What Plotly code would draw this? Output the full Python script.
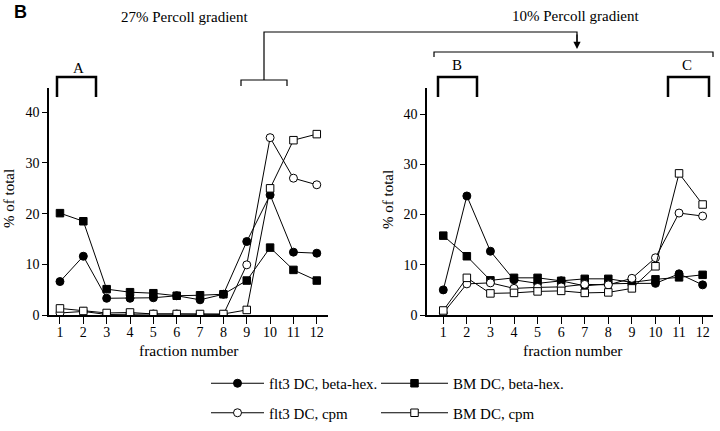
import plotly.graph_objects as go

fractions = list(range(1, 13))
x_tick_labels = [str(i) for i in fractions]
y_ticks = [0, 10, 20, 30, 40]

# Left panel (27% Percoll gradient)
left_flt3_bhex = [6.6, 11.6, 3.3, 3.3, 3.4, 3.8, 3.0, 4.1, 14.5, 23.7, 12.4, 12.2]
left_bm_bhex = [20.1, 18.5, 5.1, 4.5, 4.3, 3.8, 3.9, 4.1, 6.8, 13.3, 8.9, 6.8]
left_flt3_cpm = [0.4, 0.7, 0.1, 0.2, 0.2, 0.2, 0.1, 0.1, 9.9, 35.0, 27.0, 25.7]
left_bm_cpm = [1.3, 0.8, 0.4, 0.5, 0.2, 0.2, 0.2, 0.2, 1.0, 25.0, 34.5, 35.7]

# Right panel (10% Percoll gradient)
right_flt3_bhex = [5.0, 23.7, 12.7, 7.0, 6.3, 6.8, 5.8, 6.2, 6.3, 6.3, 8.2, 6.0]
right_bm_bhex = [15.8, 11.7, 6.9, 7.4, 7.4, 6.8, 7.2, 7.2, 6.5, 7.1, 7.5, 8.0]
right_flt3_cpm = [0.4, 6.2, 6.4, 5.3, 5.5, 5.6, 6.1, 6.0, 7.3, 11.4, 20.3, 19.7]
right_bm_cpm = [0.9, 7.4, 4.3, 4.4, 4.7, 4.8, 4.4, 4.5, 5.3, 9.7, 28.2, 22.0]

series_names = ["flt3 DC, beta-hex.", "BM DC, beta-hex.", "flt3 DC, cpm", "BM DC, cpm"]

W, H = 720, 431
def px(x):
    return x / W
def py(y):
    return 1 - y / H

SERIF = "Liberation Serif"
styles = [
    dict(symbol="circle", size=8, color="black", line=dict(color="black", width=1)),
    dict(symbol="square", size=7.5, color="black", line=dict(color="black", width=1)),
    dict(symbol="circle", size=8, color="white", line=dict(color="black", width=1)),
    dict(symbol="square", size=7.5, color="white", line=dict(color="black", width=1)),
]
legend_ids = ["legend", "legend2", "legend", "legend2"]

fig = go.Figure()
left = [left_flt3_bhex, left_bm_bhex, left_flt3_cpm, left_bm_cpm]
right = [right_flt3_bhex, right_bm_bhex, right_flt3_cpm, right_bm_cpm]
for i, (name, ys) in enumerate(zip(series_names, left)):
    fig.add_trace(go.Scatter(x=fractions, y=ys, name=name, mode="lines+markers",
                             line=dict(color="black", width=1), marker=styles[i],
                             xaxis="x", yaxis="y", legend=legend_ids[i],
                             legendgroup=name, showlegend=True))
for i, (name, ys) in enumerate(zip(series_names, right)):
    fig.add_trace(go.Scatter(x=fractions, y=ys, name=name, mode="lines+markers",
                             line=dict(color="black", width=1), marker=styles[i],
                             xaxis="x2", yaxis="y2", showlegend=False))

axis_common = dict(showline=True, linecolor="black", linewidth=1.5, ticks="outside",
                   tickwidth=1.2, tickcolor="black", showgrid=False, zeroline=False,
                   tickfont=dict(family=SERIF, size=14, color="black"), fixedrange=True)

ydom = [py(315), py(88)]
fig.update_layout(
    width=W, height=H, margin=dict(l=0, r=0, t=0, b=0, autoexpand=False),
    paper_bgcolor="white", plot_bgcolor="white",
    xaxis=dict(domain=[px(49), px(328)], range=[0.53, 12.48], tickvals=fractions,
               ticktext=x_tick_labels, anchor="y", ticklen=7, ticklabelstandoff=-4,
               **axis_common),
    yaxis=dict(domain=ydom, range=[0, 44.8], tickvals=y_ticks, anchor="x", ticklen=5,
               **axis_common),
    xaxis2=dict(domain=[px(427), px(713)], range=[0.31, 12.44], tickvals=fractions,
                ticktext=x_tick_labels, anchor="y2", ticklen=7, ticklabelstandoff=-4,
                **axis_common),
    yaxis2=dict(domain=ydom, range=[0, 45.2], tickvals=y_ticks, anchor="x2", ticklen=5,
                **axis_common),
    legend=dict(x=px(206), y=py(367), xanchor="left", yanchor="top", traceorder="grouped",
                tracegroupgap=7, itemwidth=53, bgcolor="rgba(0,0,0,0)",
                font=dict(family=SERIF, size=15, color="black")),
    legend2=dict(x=px(376), y=py(367), xanchor="left", yanchor="top", traceorder="grouped",
                 tracegroupgap=7, itemwidth=67, bgcolor="rgba(0,0,0,0)",
                 font=dict(family=SERIF, size=15, color="black")),
)

ann = []
def text(x, y, t, size=15, family=SERIF, angle=0):
    ann.append(dict(x=px(x), y=py(y), xref="paper", yref="paper", text=t, showarrow=False,
                    font=dict(family=family, size=size, color="black"), textangle=angle,
                    xanchor="center", yanchor="middle"))

text(20, 12, "<b>B</b>", size=18, family="Liberation Sans")
text(184, 17, "27% Percoll gradient")
text(575, 16, "10% Percoll gradient")
text(78, 68, "A")
text(457, 65, "B")
text(687, 65, "C")
text(189, 350, "fraction number", size=15.5)
text(573, 350, "fraction number", size=15.5)
text(9, 199, "% of total", angle=-90)
text(388, 200, "% of total", angle=-90)
# arrowhead
ann.append(dict(x=px(577), y=py(49), ax=0, ay=-16, xref="paper", yref="paper",
                axref="pixel", ayref="pixel", text="", showarrow=True, arrowhead=2,
                arrowsize=1.2, arrowwidth=1.2, arrowcolor="black"))
fig.update_layout(annotations=ann)

shapes = []
def path(points, width=1.2):
    d = "M " + " L ".join(f"{px(x)},{py(y)}" for x, y in points)
    shapes.append(dict(type="path", path=d, xref="paper", yref="paper",
                       line=dict(color="black", width=width)))

# thick fraction brackets
path([(57, 97), (57, 77), (96, 77), (96, 97)], width=2.5)
path([(438, 97), (438, 77), (477, 77), (477, 97)], width=2.5)
path([(668, 97), (668, 77), (709, 77), (709, 97)], width=2.5)
# connector from left fractions 9-11 to right panel
path([(241, 86), (241, 80), (287, 80), (287, 86)])
path([(264, 80), (264, 32), (577, 32), (577, 45)])
path([(434, 57), (434, 52), (713, 52), (713, 57)])
fig.update_layout(shapes=shapes)

fig.write_html("out.html", config={"displayModeBar": False},
               post_script="document.body.style.margin='0';")
